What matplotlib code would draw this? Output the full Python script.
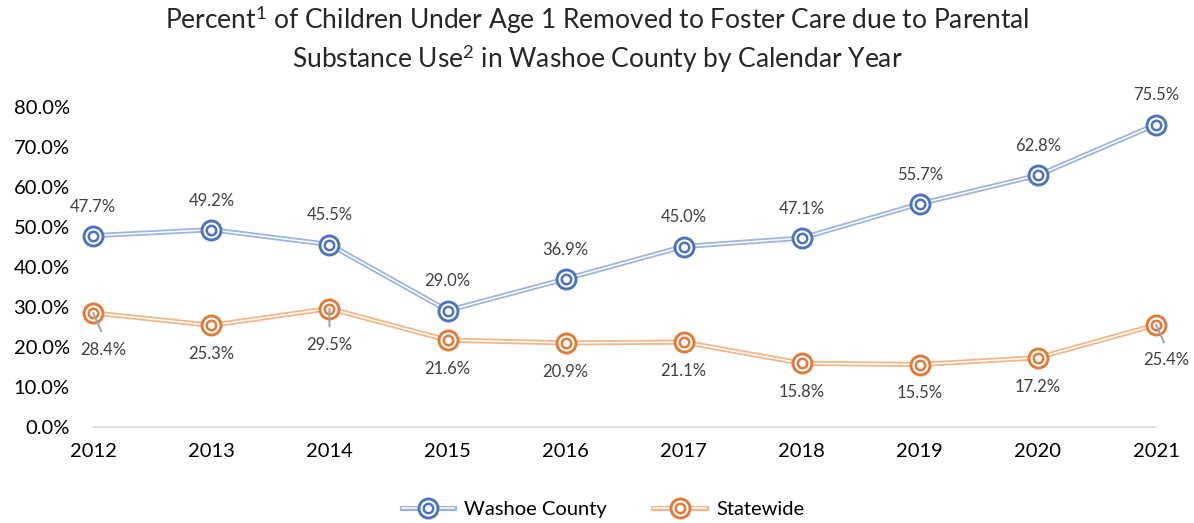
import matplotlib
matplotlib.use("Agg")
import matplotlib.pyplot as plt
from matplotlib.lines import Line2D
from matplotlib.ticker import FuncFormatter, MultipleLocator

plt.rcParams['font.family'] = ['Lato', 'DejaVu Sans']
plt.rcParams['mathtext.fontset'] = 'custom'
plt.rcParams['mathtext.rm'] = 'Lato'
plt.rcParams['mathtext.it'] = 'Lato:italic'
plt.rcParams['mathtext.bf'] = 'Lato:bold'

years = [2012, 2013, 2014, 2015, 2016, 2017, 2018, 2019, 2020, 2021]
washoe = [47.7, 49.2, 45.5, 29.0, 36.9, 45.0, 47.1, 55.7, 62.8, 75.5]
statewide = [28.4, 25.3, 29.5, 21.6, 20.9, 21.1, 15.8, 15.5, 17.2, 25.4]
series_names = ["Washoe County", "Statewide"]
title = ("Percent$^{1}$ of Children Under Age 1 Removed to Foster Care due to Parental\n"
         "Substance Use$^{2}$ in Washoe County by Calendar Year")

W, H = 1194, 523
fig = plt.figure(figsize=(W / 100, H / 100), dpi=100)
ax = fig.add_axes([93.3 / W, (H - 426.5) / H, (1156 - 93.3) / W, (426.5 - 106.5) / H])
ax.set_xlim(years[0], years[-1])
ax.set_ylim(0, 80)

styles = [
    dict(line="#9DB5E0", marker="#4F74BE"),
    dict(line="#F5B689", marker="#E07B39"),
]

OUT_MS, OUT_MEW = 13.7, 2.1
IN_MS, IN_MEW = 6.8, 1.8

handles = []
for vals, st in zip([washoe, statewide], styles):
    ax.plot(years, vals, color=st["line"], lw=3.7, zorder=3, clip_on=False)
    ax.plot(years, vals, color="white", lw=1.1, zorder=4, clip_on=False)
    ax.plot(years, vals, ls='none', marker='o', ms=OUT_MS, mfc='white', mec=st["marker"], mew=OUT_MEW,
            zorder=5, clip_on=False)
    ax.plot(years, vals, ls='none', marker='o', ms=IN_MS, mfc='none', mec=st["marker"], mew=IN_MEW,
            zorder=6, clip_on=False)
    h = (Line2D([], [], color=st["line"], lw=3.7),
         Line2D([], [], color="white", lw=1.1),
         Line2D([], [], ls='none', marker='o', ms=OUT_MS, mfc='white', mec=st["marker"], mew=OUT_MEW),
         Line2D([], [], ls='none', marker='o', ms=IN_MS, mfc='none', mec=st["marker"], mew=IN_MEW))
    handles.append(h)

label_color = "#404040"
LFS = 12
for x, v in zip(years, washoe):
    ax.annotate(f"{v:.1f}%", (x, v), xytext=(0, 29), textcoords='offset pixels',
                ha='center', va='center', fontsize=LFS, color=label_color, zorder=7)

leader = {2012: (10, -37), 2014: (0, -36), 2021: (10, -35)}
for x, v in zip(years, statewide):
    if x in leader:
        dx, dy = leader[x]
        ax.annotate("", (x, v), xytext=(dx * 0.8, dy * 0.5), textcoords='offset pixels',
                    arrowprops=dict(arrowstyle='-', color='#A6A6A6', lw=1.5, shrinkA=0, shrinkB=0),
                    zorder=7)
        ax.annotate(f"{v:.1f}%", (x, v), xytext=(dx, dy), textcoords='offset pixels',
                    ha='center', va='center', fontsize=LFS, color=label_color, zorder=7)
    else:
        ax.annotate(f"{v:.1f}%", (x, v), xytext=(0, -29), textcoords='offset pixels',
                    ha='center', va='center', fontsize=LFS, color=label_color, zorder=7)

for s in ['top', 'right', 'left']:
    ax.spines[s].set_visible(False)
ax.spines['bottom'].set_color('#D9D9D9')
ax.spines['bottom'].set_linewidth(1.2)
ax.set_xticks(years)
ax.set_xticklabels([str(y) for y in years])
ax.yaxis.set_major_locator(MultipleLocator(10))
ax.yaxis.set_major_formatter(FuncFormatter(lambda v, p: f"{v:.1f}%"))
ax.tick_params(axis='both', length=0, labelsize=14.5, colors='#000000')
ax.tick_params(axis='y', pad=17)
ax.tick_params(axis='x', pad=12)

fig.text(0.5, 1 - 39.5 / H, title, ha='center', va='center', fontsize=19,
         color='#262626', linespacing=1.3)

leg = fig.legend(handles, series_names, loc='center', bbox_to_anchor=(0.505, 1 - 509 / H),
                 ncol=2, frameon=False, fontsize=14.5, handlelength=2.6, columnspacing=2.3,
                 handletextpad=0.5)

fig.savefig("out.png", dpi=100)
